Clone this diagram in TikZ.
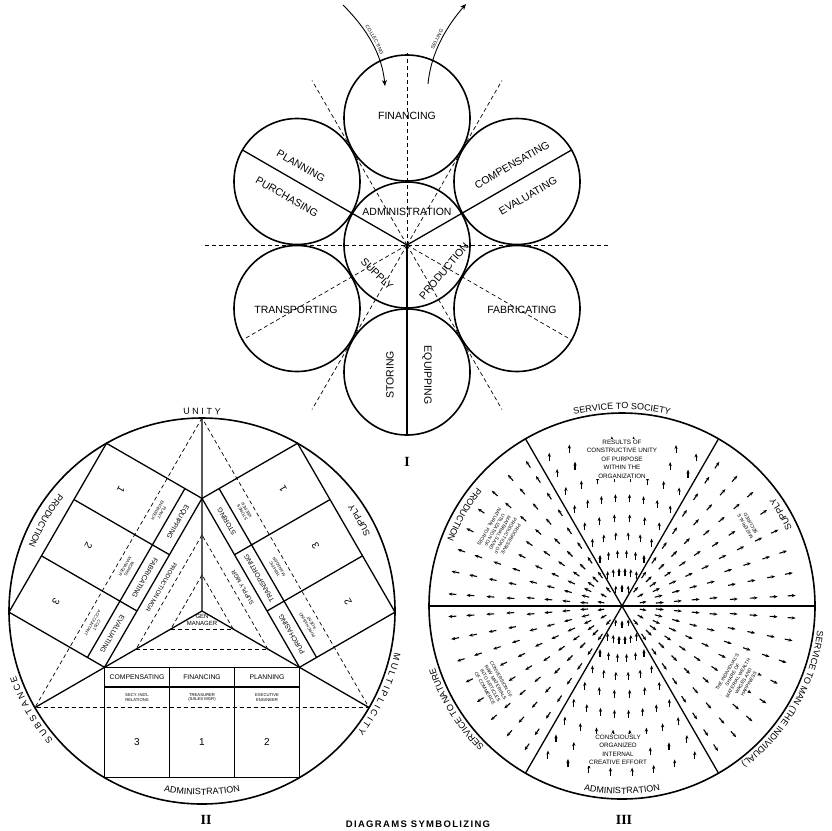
\documentclass[tikz,border=0pt]{standalone}
\usepackage{fontspec}
\newfontfamily\lett{Liberation Sans}
\newfontfamily\romn{Liberation Serif}
\newfontfamily\capfont[LetterSpace=14]{Liberation Sans}
\usetikzlibrary{arrows.meta,decorations.text,calc}
\newcommand\arctxt{\lett\fontsize{9}{10}\selectfont}
\newcommand\bandtxt{\lett\fontsize{5}{6}\selectfont}

\tikzset{
  ring/.style={line width=1.6pt},
  divider/.style={line width=1.3pt},
  guide/.style={dash pattern=on 4pt off 3pt, line width=0.7pt},
  bigtxt/.style={font=\lett\fontsize{10.5}{12}\selectfont, inner sep=0.5pt},
  headtxt/.style={font=\lett\fontsize{6.8}{8}\selectfont, inner sep=0.5pt},
  subtxt/.style={font=\lett\fontsize{4.2}{4.9}\selectfont, align=center, inner sep=0.5pt},
  mgrtxt/.style={font=\lett\fontsize{6}{6.5}\selectfont, align=center, inner sep=0.5pt},
  numtxt/.style={font=\lett\fontsize{10}{12}\selectfont},
  flowarrow/.style={line width=1.1pt, -{Stealth[length=4pt,width=3.2pt]}},
  fieldtxt/.style={font=\lett\fontsize{6.3}{8.5}\selectfont, align=center, fill=white, inner sep=1pt},
  smallfield/.style={font=\lett\fontsize{4.8}{6.2}\selectfont, align=center, fill=white, inner sep=1pt},
  romantxt/.style={font=\romn\bfseries\fontsize{14}{14}\selectfont},
  bandarrow/.style={line width=0.9pt, -{Stealth[length=6pt,width=5pt]}},
  arclabel/.style={decorate, decoration={text along path, text={|\arctxt|#1}, text align=center}},
  bandlabel/.style={decorate, decoration={text along path, text={|\bandtxt|#1}, text align=center, raise=2.5pt}},
}

\begin{document}
\begin{tikzpicture}[x=1pt, y=-1pt]
\useasboundingbox (0,0) rectangle (832,830);
\fill[white] (0,0) rectangle (832,830);

% ---- diagram I : seven circles
\coordinate (hub) at (407,245);
\foreach \nm/\px/\py in {fin/407/118, plan/297/181.5, comp/517/181.5, trans/297/308.5, fab/517/308.5, stor/407/372}
  \coordinate (\nm) at (\px,\py);
\foreach \nm in {hub,fin,plan,comp,trans,fab,stor}
  \draw[ring] (\nm) circle[radius=63];
\foreach \t/\l in {-90/192, -60/190, -120/190, 60/190, 120/190, 30/190, 150/190}
  \draw[guide] (hub) -- ++(\t:\l);
\draw[guide] (205,245) -- (610,245);
\foreach \t in {-150,-30,90}
  \draw[divider] (hub) -- ++(\t:190);

\draw[bandarrow] (343,5) .. controls (368,30) and (382,55) .. (385,86);
\path[bandlabel={COLLECTING}] (343,5) .. controls (368,30) and (382,55) .. (385,86);
\draw[bandarrow] (428,84) .. controls (431,52) and (447,26) .. (466,4);
\path[bandlabel={SELLING}] (428,84) .. controls (431,52) and (447,26) .. (466,4);

\node[bigtxt] (financing) at (407,116) {FINANCING};
\node[bigtxt, rotate=-30] (planning) at (301,166) {PLANNING};
\node[bigtxt, rotate=-30] (purchasing) at (287,197) {PURCHASING};
\node[bigtxt, rotate=30] (compensating) at (512,165) {COMPENSATING};
\node[bigtxt, rotate=30] (evaluating) at (528,196) {EVALUATING};
\node[bigtxt] (administration) at (407,212) {ADMINISTRATION};
\node[bigtxt, rotate=-45] (supply) at (377,274) {SUPPLY};
\node[bigtxt, rotate=50] (production) at (444,271) {PRODUCTION};
\node[bigtxt] (transporting) at (296,310) {TRANSPORTING};
\node[bigtxt] (fabricating) at (522,310) {FABRICATING};
\node[bigtxt, rotate=90] (storing) at (390,375) {STORING};
\node[bigtxt, rotate=-90] (equipping) at (427,375) {EQUIPPING};
\node[romantxt] (numI) at (407,462) {I};

% ---- diagram II : three arms in a circle
\coordinate (O2) at (202,611);
\coordinate (unity) at (202,418);
\coordinate (subst) at (35,707.5);
\coordinate (multi) at (369,707.5);
\draw[ring] (O2) circle[radius=193];
\draw[divider] (O2) -- (unity) (O2) -- (subst) (O2) -- (multi);
\draw[guide] (unity) -- (subst) -- (multi) -- cycle;

\foreach \rot/\ha/\hb/\hc/\sa/\sb/\sc/\na/\nb/\nc/\mg/\my [count=\k] in {
  0/COMPENSATING/FINANCING/PLANNING/{SECY. IND'L\\RELATIONS}/{TREASURER\\(SALES MGR)}/{EXECUTIVE\\ENGINEER}/3/1/2/{GEN\\MANAGER}/9,
  -120/EQUIPPING/FABRICATING/EVALUATING/{PLANT\\ENGINEER}/{WORKS\\MANAGER}/{COST\\ACCOUNTANT}/1/2/3/{PRODUCTION MGR}/47,
  120/PURCHASING/TRANSPORTING/STORING/{PURCHASING\\AGENT}/{TRAFFIC\\MANAGER}/{STORES\\KEEPER}/2/3/1/{SUPPLY MGR}/47}
{
  \begin{scope}[shift={(O2)}, rotate=\rot, transform shape]
    \draw[divider] (-97.5,56.3) rectangle (97.5,166.6);
    \draw[divider] (-97.5,76) -- (97.5,76) (-32.5,56.3) -- (-32.5,166.6) (32.5,56.3) -- (32.5,166.6);
    \draw[guide] (-31.2,18) -- (31.2,18) (-65.8,38) -- (65.8,38);
    \node[headtxt] (colA\k) at (-65,66) {\ha};
    \node[headtxt] (colB\k) at (0,66) {\hb};
    \node[headtxt] (colC\k) at (65,66) {\hc};
    \node[subtxt] (subA\k) at (-65,86.5) {\sa};
    \node[subtxt] (subB\k) at (0,86.5) {\sb};
    \node[subtxt] (subC\k) at (65,86.5) {\sc};
    \node[numtxt] (numA\k) at (-65,131) {\na};
    \node[numtxt] (numB\k) at (0,131) {\nb};
    \node[numtxt] (numC\k) at (65,131) {\nc};
    \node[mgrtxt] (mgr\k) at (0,\my) {\mg};
  \end{scope}
}

\path[arclabel={U N I T Y}] ($(O2)+(-104:197)$) arc[start angle=-104, end angle=-76, radius=197];
\path[arclabel={S U B S T A N C E}] ($(O2)+(-230:197)$) arc[start angle=-230, end angle=-190, radius=197];
\path[arclabel={M U L T I P L I C I T Y}] ($(O2)+(4:197)$) arc[start angle=4, end angle=46, radius=197];
\path[arclabel={ADMINISTRATION}] ($(O2)+(106:184)$) arc[start angle=106, end angle=74, radius=184];
\path[arclabel={PRODUCTION}] ($(O2)+(-132:185)$) arc[start angle=-132, end angle=-168, radius=185];
\path[arclabel={SUPPLY}] ($(O2)+(-18:185)$) arc[start angle=-18, end angle=-42, radius=185];
\node[romantxt] (numII) at (206,820) {II};

% ---- diagram III : six sectors with flow arrows
\coordinate (O3) at (622,606);
\draw[ring] (O3) circle[radius=193];
\draw[divider] ($(O3)+(180:193)$) -- ($(O3)+(0:193)$);
\foreach \t in {-120,-60,60,120}
  \draw[divider] (O3) -- ++(\t:193);

% radial arrows in the side sectors
\foreach \s in {-60,0,120,180} {
  \foreach \da in {10,30,50}
    \draw[flowarrow] ($(O3)+(\s+\da:18)$) -- ++(\s+\da:7);
  \foreach \da in {5,15,...,55}
    \foreach \r in {34,52,70,88}
      \draw[flowarrow] ($(O3)+(\s+\da:\r)$) -- ++(\s+\da:8);
  \foreach \da in {4,11.5,...,56.5}
    \foreach \r in {108,128,148,166}
      \draw[flowarrow] ($(O3)+(\s+\da:\r)$) -- ++(\s+\da:8);
}
% upward arrows in the top and bottom sectors
\foreach \s in {-120,60} {
  \foreach \da in {10,30,50}
    \draw[flowarrow] ($(O3)+(\s+\da:18)+(0,3.5)$) -- ++(0,-7);
  \foreach \da in {5,15,...,55}
    \foreach \r in {34,52,70,88}
      \draw[flowarrow] ($(O3)+(\s+\da:\r)+(0,4)$) -- ++(0,-8);
  \foreach \da in {4,11.5,...,56.5}
    \foreach \r in {108,128,148,166}
      \draw[flowarrow] ($(O3)+(\s+\da:\r)+(0,4)$) -- ++(0,-8);
}

\node[fieldtxt] (resultsTxt) at (622,459) {RESULTS OF\\CONSTRUCTIVE UNITY\\OF PURPOSE\\WITHIN THE\\ORGANIZATION};
\node[fieldtxt] (effortTxt) at (618,750) {CONSCIOUSLY\\ORGANIZED\\INTERNAL\\CREATIVE EFFORT};
\node[smallfield, rotate=-120] (prodTxt) at (500,533) {PROGRESSIVE\\PRODUCTION OF\\MATERIALS AND\\UTILIZATION OF\\NATURAL FORCES};
\node[smallfield, rotate=120] (supTxt) at (748,525) {MATERIALS\\SECURED};
\node[smallfield, rotate=-60] (natTxt) at (493,684) {CONVERSION OF\\RAW MATERIALS\\INTO ARTICLES\\OF COMMERCE};
\node[smallfield, rotate=60] (manTxt) at (738,678) {THE INDIVIDUAL'S\\SHARE OF\\MATERIAL WEALTH\\WAGES AND\\HAPPINESS};

\path[arclabel={SERVICE TO SOCIETY}] ($(O3)+(-112:197)$) arc[start angle=-112, end angle=-68, radius=197];
\path[arclabel={SERVICE TO MAN (THE INDIVIDUAL)}] ($(O3)+(-4:197)$) arc[start angle=-4, end angle=64, radius=197];
\path[arclabel={SERVICE TO NATURE}] ($(O3)+(-240:197)$) arc[start angle=-240, end angle=-184, radius=197];
\path[arclabel={PRODUCTION}] ($(O3)+(-132:187)$) arc[start angle=-132, end angle=-168, radius=187];
\path[arclabel={SUPPLY}] ($(O3)+(-18:187)$) arc[start angle=-18, end angle=-42, radius=187];
\path[arclabel={ADMINISTRATION}] ($(O3)+(104:188)$) arc[start angle=104, end angle=76, radius=188];
\node[romantxt] (numIII) at (624,820) {III};

\node[font=\capfont\bfseries\fontsize{9.5}{10}\selectfont] (caption) at (418,824) {DIAGRAMS SYMBOLIZING};
\end{tikzpicture}
\end{document}
